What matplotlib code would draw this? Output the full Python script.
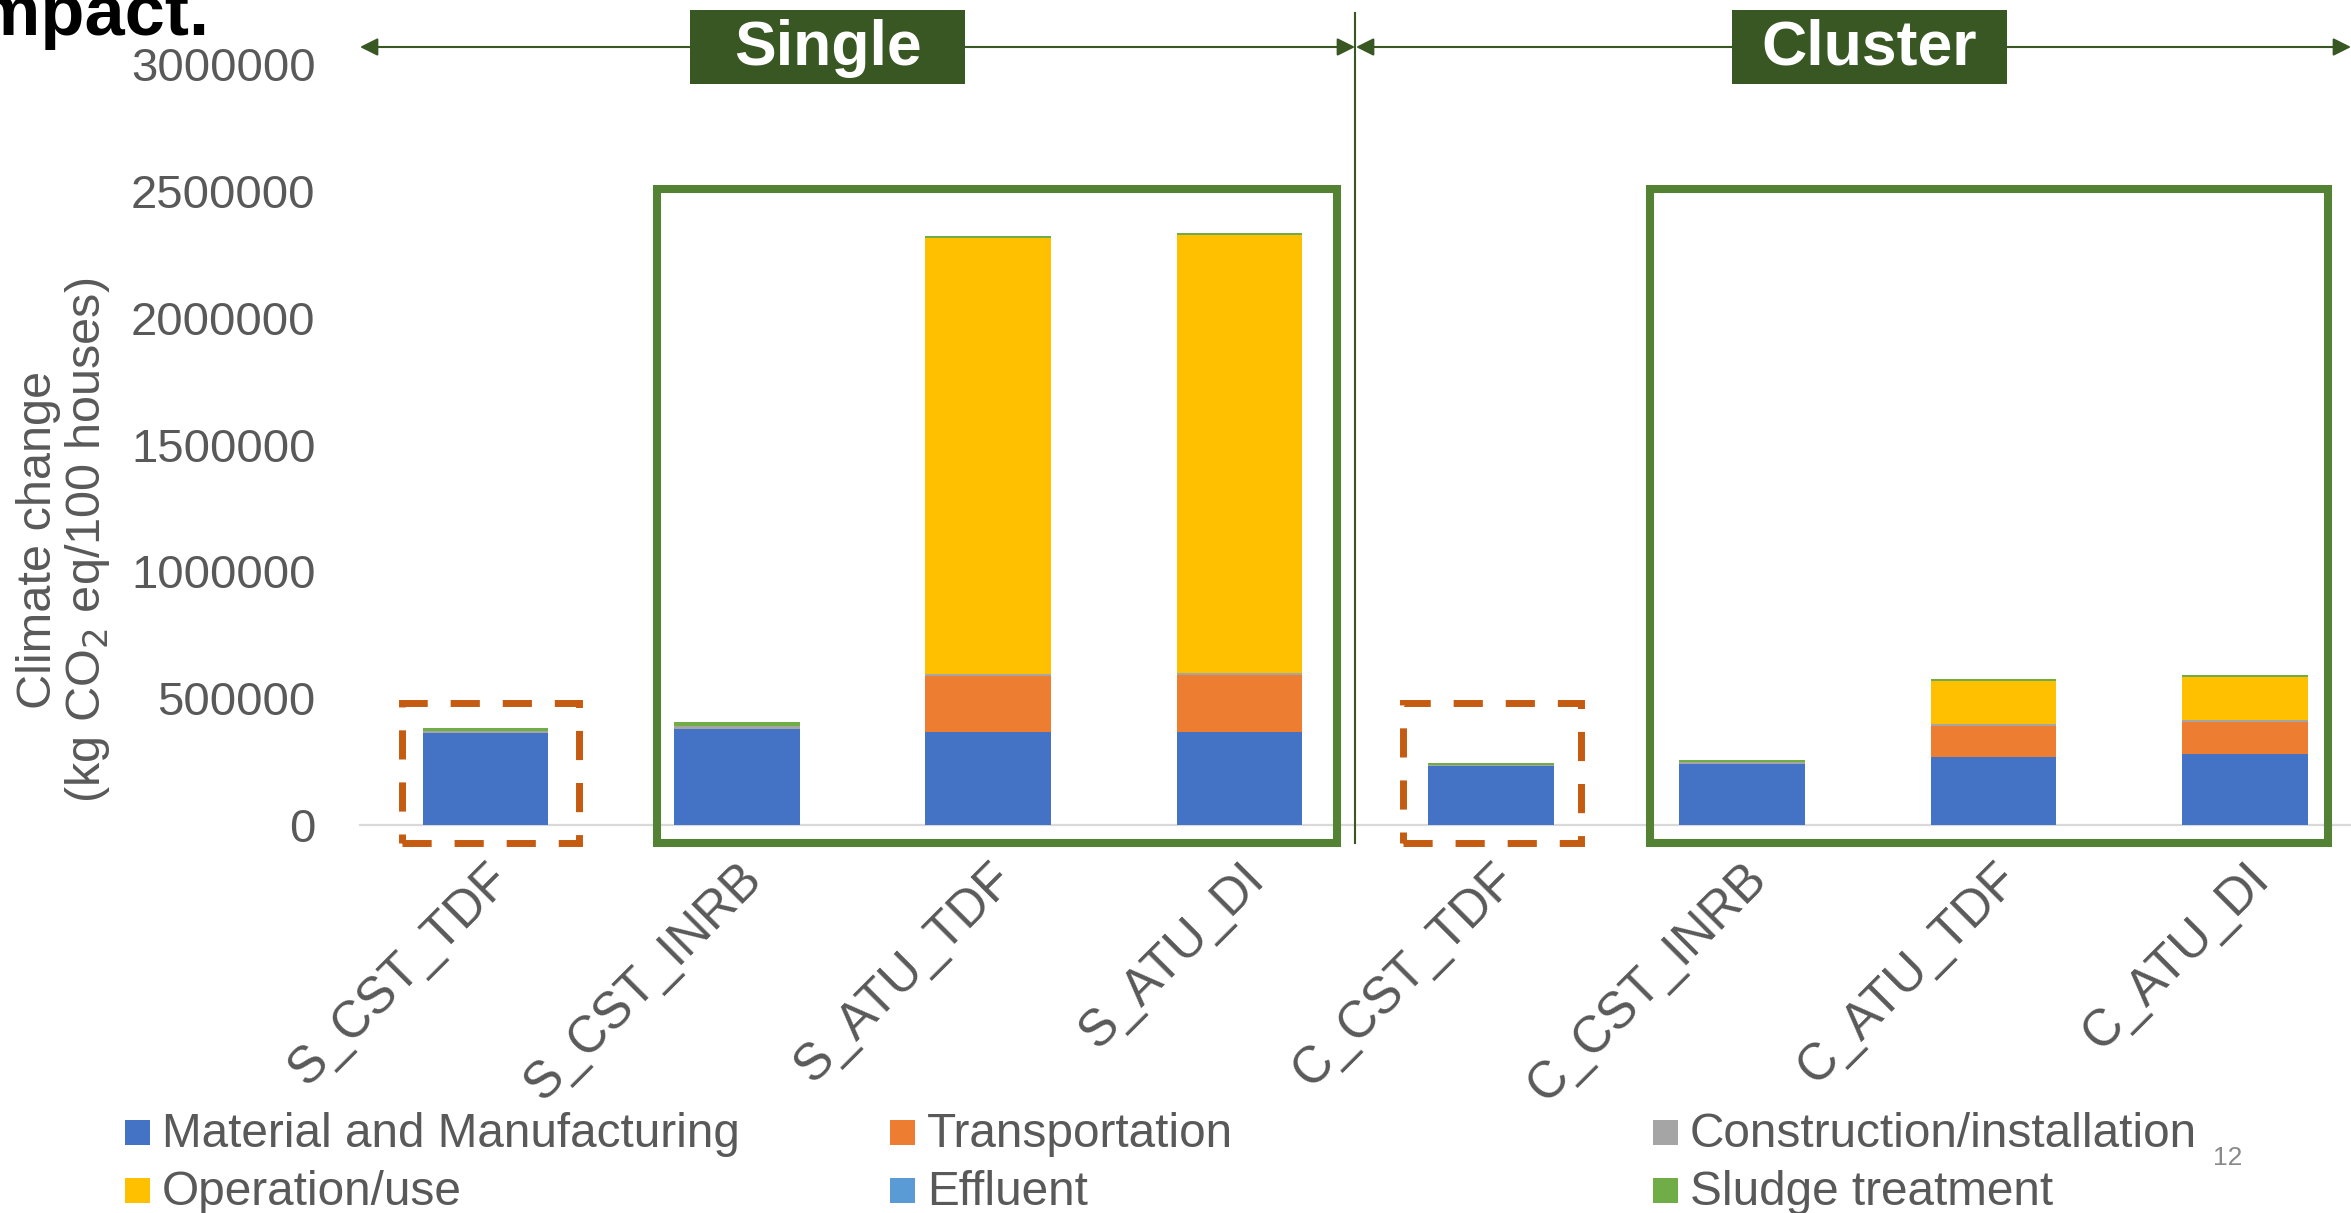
import numpy as np
import matplotlib
matplotlib.use("Agg")
import matplotlib.pyplot as plt
from matplotlib.patches import Rectangle, FancyArrowPatch
from matplotlib.lines import Line2D

plt.rcParams['font.family'] = ['Liberation Sans', 'DejaVu Sans']

# data (kg CO2 eq / 100 houses)
categories = ['S_CST_TDF', 'S_CST_INRB', 'S_ATU_TDF', 'S_ATU_DI',
              'C_CST_TDF', 'C_CST_INRB', 'C_ATU_TDF', 'C_ATU_DI']
material = [361000, 378000, 366000, 366000, 233000, 241000, 269000, 280000]
transport = [0, 0, 220000, 224000, 0, 0, 123000, 127000]
construction = [9000, 12000, 8000, 9000, 5500, 7000, 5500, 5500]
operation = [0, 0, 1722000, 1725000, 0, 0, 171000, 171000]
effluent = [0, 0, 0, 0, 0, 0, 0, 0]
sludge = [13000, 14500, 7000, 8000, 7000, 7000, 8500, 8500]

series_names = ['Material and Manufacturing', 'Transportation', 'Construction/installation',
                'Operation/use', 'Effluent', 'Sludge treatment']
series_values = [material, transport, construction, operation, effluent, sludge]
series_colors = ['#4472C4', '#ED7D31', '#A5A5A5', '#FFC000', '#5B9BD5', '#70AD47']

y_ticks = [0, 500000, 1000000, 1500000, 2000000, 2500000, 3000000]
group_labels = ['Single', 'Cluster']

W, H = 2351, 1213
GRAY = '#595959'
DARK_GREEN = '#385723'
BOX_GREEN = '#548235'
DASH_ORANGE = '#C55A11'


def fx(x):
    return x / W


def fy(y):
    return 1 - y / H


fig = plt.figure(figsize=(W / 100, H / 100), dpi=100)

# plot area: category spacing ~251 px, zero line at y=825, 3M at y=64
step = 251.3
ax = fig.add_axes([fx(360), fy(825), fx(W - 360), (825 - 64) / H])
x = np.arange(len(categories))
bottom = np.zeros(len(categories))
for name, vals, col in zip(series_names, series_values, series_colors):
    ax.bar(x, vals, width=0.5, bottom=bottom, color=col, label=name)
    bottom += np.array(vals)

ax.set_xlim(-0.5, -0.5 + (W - 360) / step)
ax.set_ylim(0, 3000000)
ax.set_yticks(y_ticks)
ax.set_yticklabels([str(v) for v in y_ticks], fontsize=34, color=GRAY)
ax.set_xticks(x)
ax.set_xticklabels(categories, rotation=45, ha='right', rotation_mode='anchor',
                   fontsize=36.5, color=GRAY)
ax.tick_params(axis='y', length=0, pad=32)
ax.tick_params(axis='x', length=0, pad=21)
for s in ax.spines.values():
    s.set_visible(False)
ax.axhline(0, color='#D9D9D9', lw=1.6, zorder=0, clip_on=False)

fig.text(fx(64), fy(540), 'Climate change\n(kg CO$_2$ eq/100 houses)', rotation=90,
         ha='center', va='center', multialignment='center', fontsize=35,
         color=GRAY, linespacing=1.05)


def rect(x0, y0, x1, y1, **kw):
    r = Rectangle((fx(x0), fy(y1)), fx(x1 - x0), (y1 - y0) / H,
                  transform=fig.transFigure, **kw)
    fig.patches.append(r)
    return r


# highlight boxes
rect(657, 189, 1337, 843, fill=False, ec=BOX_GREEN, lw=5.8)
rect(1650, 189, 2328, 843, fill=False, ec=BOX_GREEN, lw=5.8)
rect(402, 703, 579, 843, fill=False, ec=DASH_ORANGE, lw=5.0, ls=(0, (4.2, 3.3)))
rect(1403, 703, 1581, 843, fill=False, ec=DASH_ORANGE, lw=5.0, ls=(0, (4.2, 3.3)))

# divider and group arrows
fig.lines.append(Line2D([fx(1355), fx(1355)], [fy(13), fy(843)], transform=fig.transFigure,
                        color=DARK_GREEN, lw=1.5))
arrow_style = '<|-|>,head_length=0.6,head_width=0.3'
for (a, b) in [(360, 1355), (1356, 2351)]:
    fig.patches.append(FancyArrowPatch(
        (fx(a), fy(47)), (fx(b), fy(47)), transform=fig.transFigure,
        arrowstyle=arrow_style, mutation_scale=18, color=DARK_GREEN, lw=1.5,
        shrinkA=0, shrinkB=0))

for label, (a, b) in zip(group_labels, [(690, 965), (1732, 2007)]):
    rect(a, 10, b, 84, fc=DARK_GREEN, ec='none', zorder=3)
    fig.text(fx((a + b) / 2), fy(48), label, ha='center', va='center', fontsize=45,
             fontweight='bold', color='white', zorder=4)

# legend, drawn as in the slide (3 columns x 2 rows)
leg_x = [125, 890, 1653]
leg_y = [1132, 1190]
for i, (name, col) in enumerate(zip(series_names, series_colors)):
    r, c = divmod(i, 3)
    rect(leg_x[c], leg_y[r] - 12.5, leg_x[c] + 25, leg_y[r] + 12.5, fc=col, ec='none')
    fig.text(fx(leg_x[c] + 37), fy(leg_y[r] + 15), name, ha='left', va='baseline',
             fontsize=34.4, color=GRAY)

# page number and cut-off slide title
fig.text(fx(2228), fy(1158), '12', ha='center', va='center', fontsize=19, color='#898989')
fig.text(fx(209), fy(35), 'Impact.', ha='right', va='baseline', fontsize=52,
         fontweight='bold', color='black')

fig.savefig('out.png', dpi=100)
